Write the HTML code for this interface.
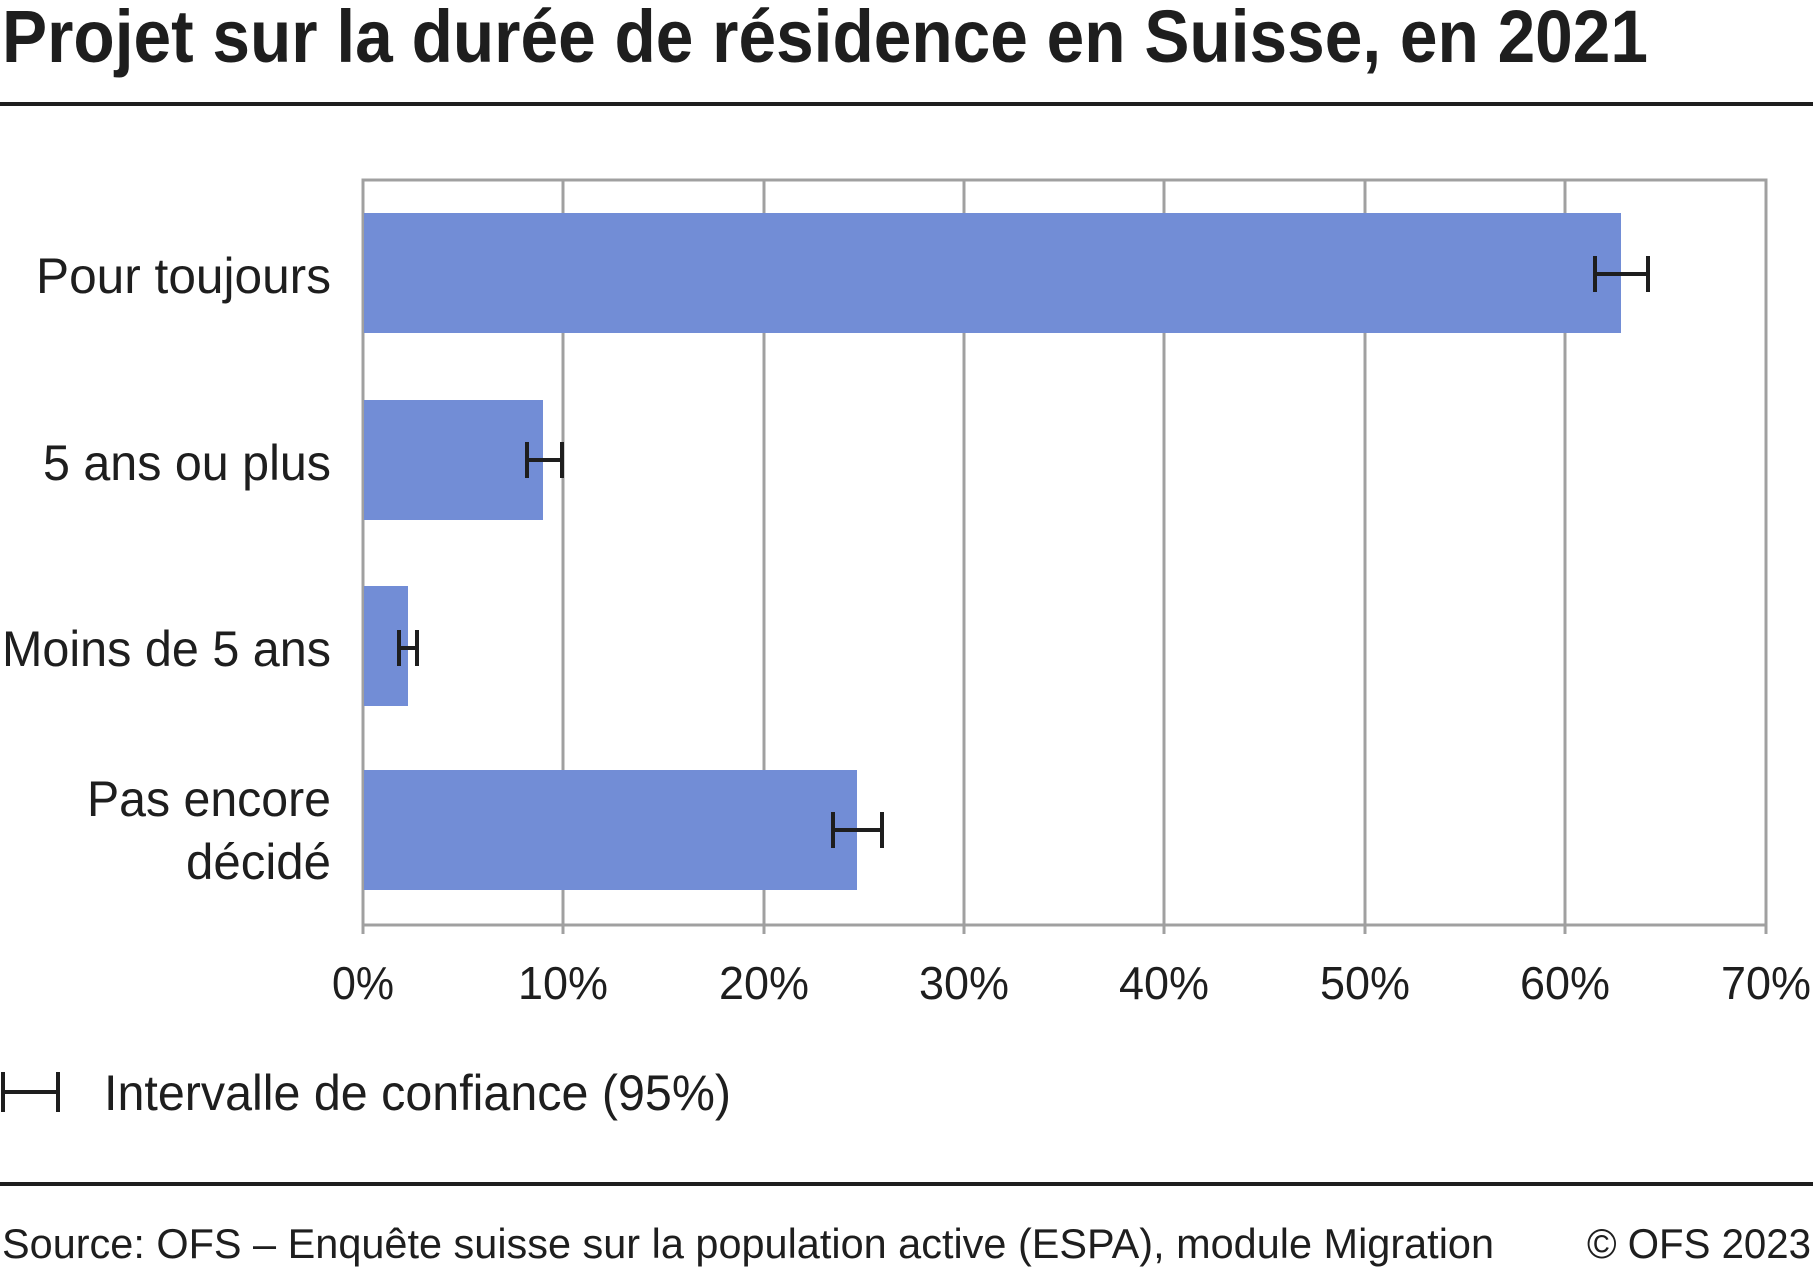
<!DOCTYPE html>
<html><head><meta charset="utf-8"><style>
html,body{margin:0;padding:0;background:#fff;width:1813px;height:1270px;overflow:hidden}
svg text{font-family:"Liberation Sans",sans-serif;fill:#1e1e1e}
</style></head><body>
<svg width="1813" height="1270" viewBox="0 0 1813 1270" xmlns="http://www.w3.org/2000/svg">
<text x="2" y="62" font-size="74" font-weight="bold" textLength="1646" lengthAdjust="spacingAndGlyphs">Projet sur la durée de résidence en Suisse, en 2021</text>
<rect x="0" y="102" width="1813" height="4" fill="#1e1e1e"/>
<g stroke="#a0a0a0" stroke-width="3" fill="none">
<rect x="363" y="180" width="1403" height="745"/>
<line x1="563" y1="180" x2="563" y2="934"/>
<line x1="764" y1="180" x2="764" y2="934"/>
<line x1="964" y1="180" x2="964" y2="934"/>
<line x1="1164" y1="180" x2="1164" y2="934"/>
<line x1="1365" y1="180" x2="1365" y2="934"/>
<line x1="1565" y1="180" x2="1565" y2="934"/>
<line x1="363" y1="925" x2="363" y2="934"/>
<line x1="1766" y1="925" x2="1766" y2="934"/>
</g>
<g fill="#728dd6">
<rect x="364" y="213" width="1257" height="120"/>
<rect x="364" y="400" width="179" height="120"/>
<rect x="364" y="586" width="44" height="120"/>
<rect x="364" y="770" width="493" height="120"/>
</g>
<g stroke="#1e1e1e" stroke-width="4" fill="none">
<path d="M1595 256V292M1595 274H1648M1648 256V292"/>
<path d="M527 442V478M527 460H562M562 442V478"/>
<path d="M399 630V666M399 648H417M417 630V666"/>
<path d="M833 812V848M833 830H882M882 812V848"/>
<path d="M3 1072V1112M3 1092H58M58 1072V1112"/>
</g>
<g font-size="50" text-anchor="end">
<text x="331" y="293" textLength="295" lengthAdjust="spacingAndGlyphs">Pour toujours</text>
<text x="331" y="480" textLength="288" lengthAdjust="spacingAndGlyphs">5 ans ou plus</text>
<text x="331" y="666" textLength="329" lengthAdjust="spacingAndGlyphs">Moins de 5 ans</text>
<text x="331" y="816" textLength="244" lengthAdjust="spacingAndGlyphs">Pas encore</text>
<text x="331" y="879" textLength="145" lengthAdjust="spacingAndGlyphs">décidé</text>
</g>
<g font-size="46" text-anchor="middle">
<text x="363" y="999" textLength="62" lengthAdjust="spacingAndGlyphs">0%</text>
<text x="563" y="999" textLength="90" lengthAdjust="spacingAndGlyphs">10%</text>
<text x="764" y="999" textLength="90" lengthAdjust="spacingAndGlyphs">20%</text>
<text x="964" y="999" textLength="90" lengthAdjust="spacingAndGlyphs">30%</text>
<text x="1164" y="999" textLength="90" lengthAdjust="spacingAndGlyphs">40%</text>
<text x="1365" y="999" textLength="90" lengthAdjust="spacingAndGlyphs">50%</text>
<text x="1565" y="999" textLength="90" lengthAdjust="spacingAndGlyphs">60%</text>
<text x="1766" y="999" textLength="90" lengthAdjust="spacingAndGlyphs">70%</text>
</g>
<text x="104" y="1110" font-size="50" textLength="627" lengthAdjust="spacingAndGlyphs">Intervalle de confiance (95%)</text>
<rect x="0" y="1182" width="1813" height="4" fill="#1e1e1e"/>
<text x="2" y="1258" font-size="42" textLength="1492" lengthAdjust="spacingAndGlyphs">Source: OFS – Enquête suisse sur la population active (ESPA), module Migration</text>
<text x="1811" y="1258" font-size="42" text-anchor="end" textLength="224" lengthAdjust="spacingAndGlyphs">© OFS 2023</text>
</svg>
</body></html>
